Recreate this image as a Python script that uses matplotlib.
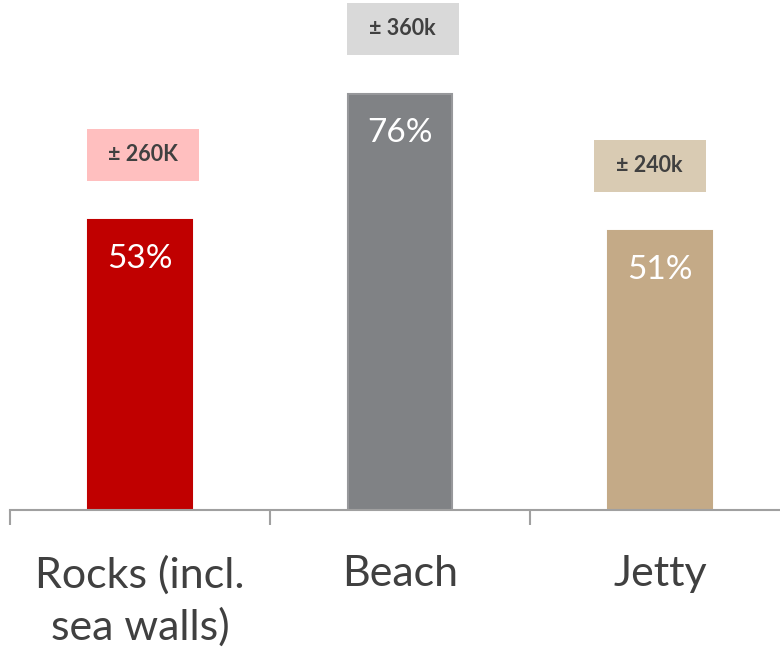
import matplotlib.pyplot as plt
from matplotlib.patches import Rectangle

categories = ['Rocks (incl.\nsea walls)', 'Beach', 'Jetty']
shares = [53, 76, 51]
counts = ['± 260K', '± 360k', '± 240k']
bar_colors = ['#C00000', '#808285', '#C4AA87']
edge_colors = ['#C00000', '#97989B', '#C4AA87']
box_colors = ['#FFBFBF', '#D9D9D9', '#D9CBB3']

plt.rcParams['font.family'] = ['Lato', 'DejaVu Sans']

W, H = 780, 653
fig = plt.figure(figsize=(W / 100, H / 100), dpi=100)
ppu = 5.48  # pixels per percent
ymax = 93
ax = fig.add_axes([10 / W, 143 / H, 1.0, ymax * ppu / H])

x = [i + 0.5 for i in range(len(categories))]
ax.bar(x, shares, width=0.4, color=bar_colors, edgecolor=edge_colors, linewidth=1.5, zorder=2)

ax.set_xlim(0, 3)
ax.set_ylim(0, ymax)

box_shift = [0.012, 0.01, -0.04]
for xi, v, c, bc, dx in zip(x, shares, counts, box_colors, box_shift):
    ax.text(xi, v - 7.2, f'{v}%', ha='center', va='center', color='white', fontsize=24)
    # label box above the bar
    bw, bh = 0.43, 52 / ppu
    y0 = v + 39 / ppu
    ax.add_patch(Rectangle((xi + dx - bw / 2, y0), bw, bh, facecolor=bc, edgecolor='none',
                           clip_on=False))
    ax.text(xi + dx, y0 + bh / 2, c, ha='center', va='center', color='#404040',
            fontsize=15.5, fontweight='bold')

for s in ['top', 'right', 'left']:
    ax.spines[s].set_visible(False)
ax.spines['bottom'].set_color('#A0A0A0')
ax.spines['bottom'].set_linewidth(1.5)
ax.set_yticks([])
ax.set_xticks([0, 1, 2, 3])
ax.set_xticklabels([])
ax.tick_params(axis='x', direction='out', length=11, width=1.5, color='#A0A0A0')

for xi, lab in zip(x, categories):
    ax.text(xi, -8.3, lab, ha='center', va='top', fontsize=31, color='#404040',
            linespacing=1.38)

fig.savefig('out.png', dpi=100)
